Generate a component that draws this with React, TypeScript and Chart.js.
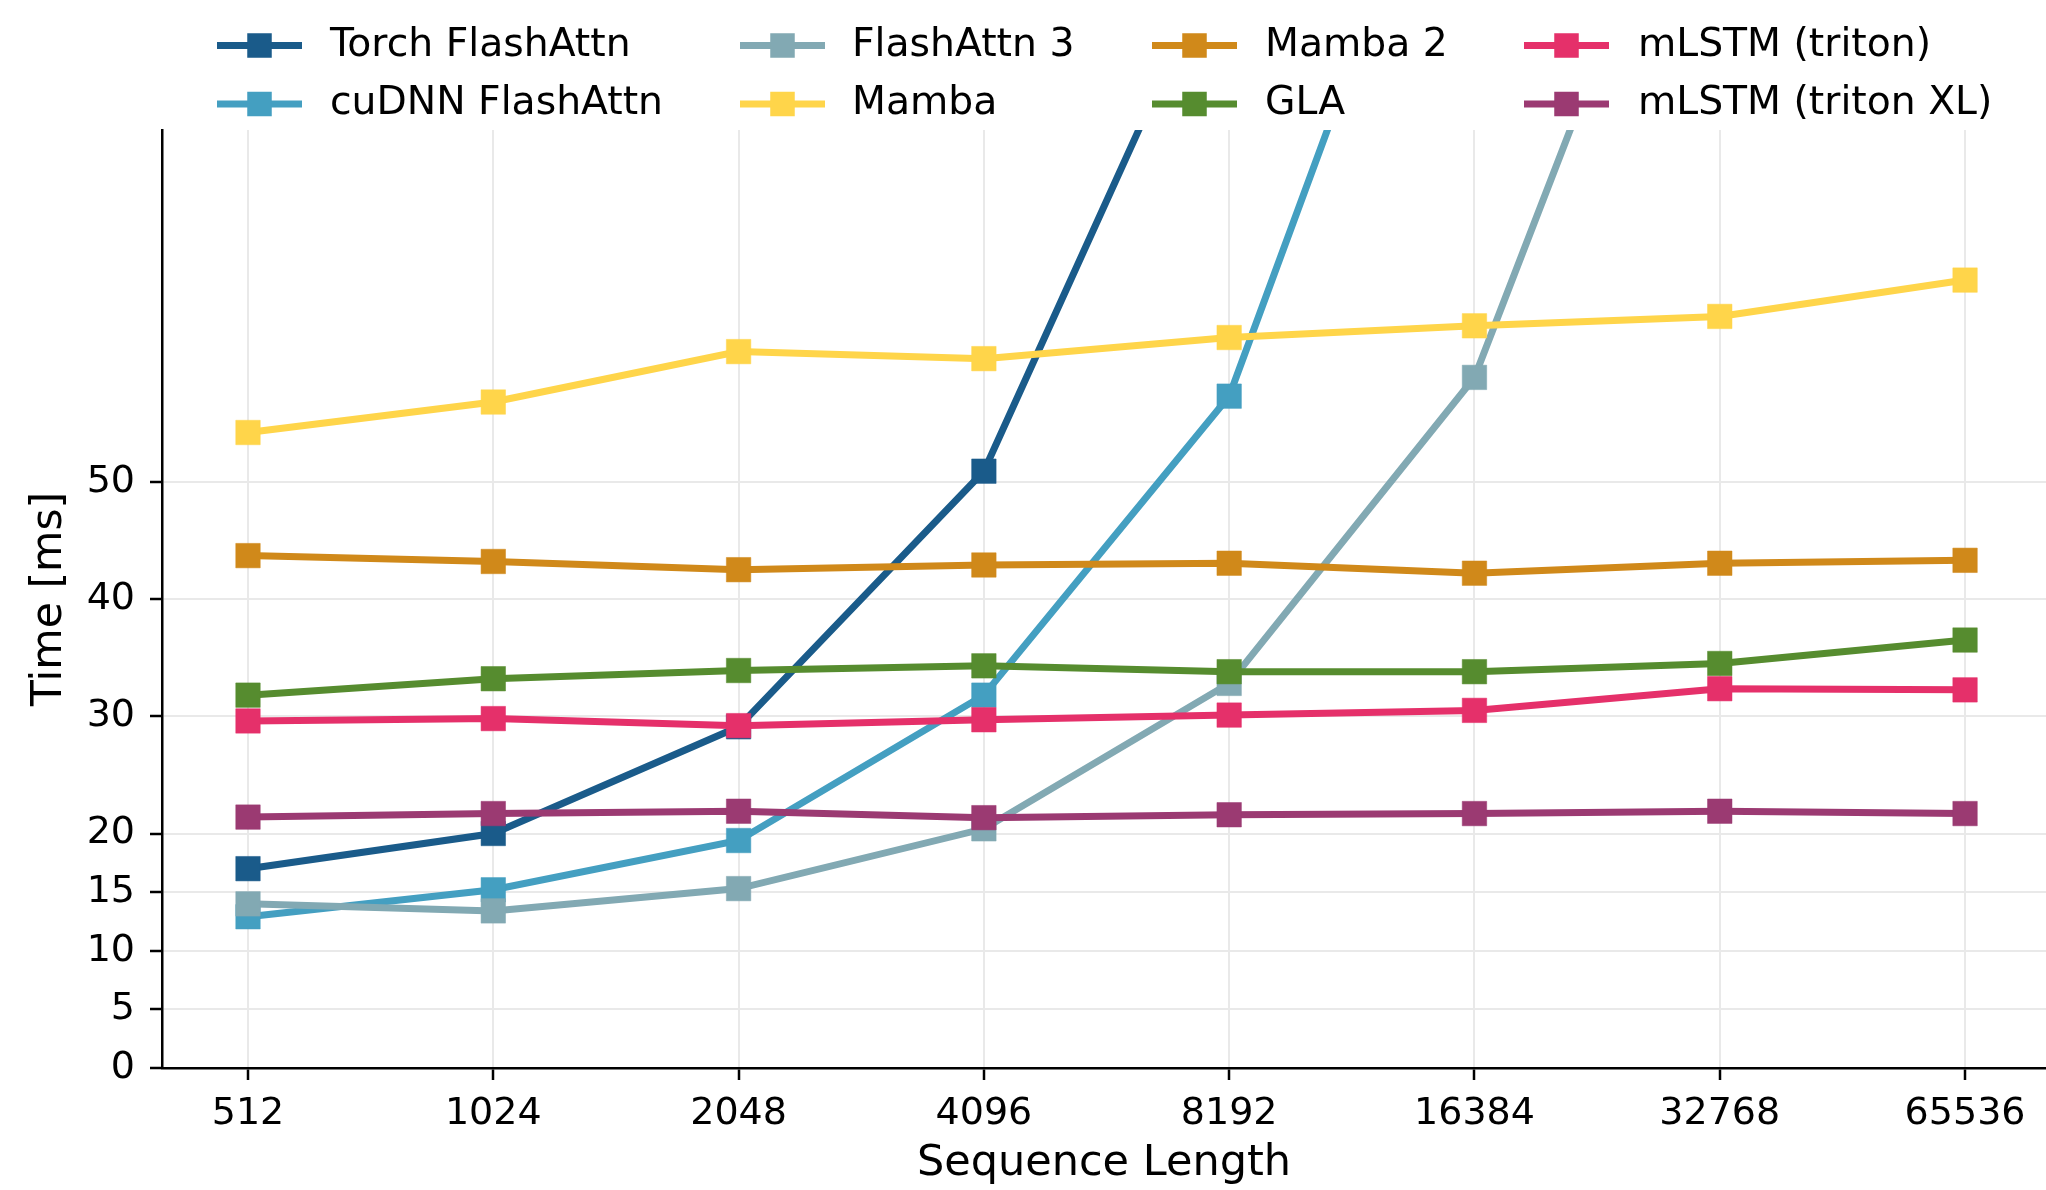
import React, { useEffect, useRef } from "react";
import { Chart, registerables } from "chart.js";

Chart.register(...registerables);

const categories = ["512", "1024", "2048", "4096", "8192", "16384", "32768", "65536"];
const yTicks = [0, 5, 10, 15, 20, 30, 40, 50];

const torchFlash = [17.0, 20.0, 29.1, 50.9, 97, null, null, null];
const cudnnFlash = [12.9, 15.2, 19.4, 31.8, 57.3, 114, null, null];
const flash3 = [14.0, 13.4, 15.3, 20.4, 32.8, 58.9, 113, null];
const mamba = [54.2, 56.8, 61.1, 60.5, 62.3, 63.3, 64.1, 67.2];
const mamba2 = [43.7, 43.2, 42.5, 42.9, 43.05, 42.2, 43.05, 43.3];
const gla = [31.8, 33.2, 33.9, 34.3, 33.8, 33.8, 34.5, 36.5];
const mlstmTriton = [29.6, 29.8, 29.2, 29.7, 30.1, 30.5, 32.35, 32.25];
const mlstmTritonXL = [21.4, 21.7, 21.9, 21.35, 21.6, 21.7, 21.9, 21.7];

const seriesNames = [
  "Torch FlashAttn",
  "cuDNN FlashAttn",
  "FlashAttn 3",
  "Mamba",
  "Mamba 2",
  "GLA",
  "mLSTM (triton)",
  "mLSTM (triton XL)",
];
const seriesValues = [torchFlash, cudnnFlash, flash3, mamba, mamba2, gla, mlstmTriton, mlstmTritonXL];
const seriesColors = ["#1a5b8a", "#449fc1", "#82a9b3", "#ffd54a", "#d0891a", "#568c2f", "#e5306a", "#9b3a72"];

const FONT = "'DejaVu Sans', 'Liberation Sans', sans-serif";

const legendPlugin = {
  id: "customLegend",
  afterDraw(chart: any) {
    const ctx = chart.ctx;
    const cols = [
      { hx: 217, tx: 330 },
      { hx: 740, tx: 852 },
      { hx: 1152, tx: 1265 },
      { hx: 1524, tx: 1638 },
    ];
    const rows = [45.5, 104];
    const hw = 85;
    const ms = 24.5;
    ctx.save();
    chart.data.datasets.forEach((ds: any, i: number) => {
      const c = cols[Math.floor(i / 2)];
      const y = rows[i % 2];
      ctx.strokeStyle = ds.borderColor;
      ctx.lineWidth = 7;
      ctx.lineCap = "butt";
      ctx.beginPath();
      ctx.moveTo(c.hx, y);
      ctx.lineTo(c.hx + hw, y);
      ctx.stroke();
      ctx.fillStyle = ds.borderColor;
      ctx.fillRect(c.hx + hw / 2 - ms / 2, y - ms / 2, ms, ms);
      ctx.fillStyle = "#000";
      ctx.font = `39.3px ${FONT}`;
      ctx.textBaseline = "middle";
      ctx.textAlign = "left";
      ctx.fillText(ds.label, c.tx, y);
    });
    ctx.restore();
  },
};

export default function App() {
  const ref = useRef<HTMLCanvasElement | null>(null);
  useEffect(() => {
    if (!ref.current) return;
    Chart.defaults.font.family = FONT;
    const datasets = seriesNames.map((name, i) => ({
      label: name,
      data: seriesValues[i].map((v, j) => ({ x: j, y: v })),
      borderColor: seriesColors[i],
      backgroundColor: seriesColors[i],
      pointBackgroundColor: seriesColors[i],
      pointBorderColor: seriesColors[i],
      pointBorderWidth: 0.5,
      borderWidth: 7,
      pointStyle: "rect",
      pointRadius: 17.3,
      pointHoverRadius: 17.3,
      tension: 0,
      spanGaps: false,
      order: 20 - i,
    }));
    const chart = new Chart(ref.current, {
      type: "line",
      data: { datasets },
      plugins: [legendPlugin],
      options: {
        animation: false,
        responsive: false,
        devicePixelRatio: 1,
        layout: { autoPadding: false, padding: { top: 130, left: 0, right: 0, bottom: 0 } },
        plugins: { legend: { display: false }, tooltip: { enabled: false } },
        scales: {
          x: {
            type: "linear",
            min: -0.3506,
            max: 7.33,
            afterFit: (s: any) => {
              s.height = 122;
              s.paddingLeft = 0;
              s.paddingRight = 0;
            },
            afterBuildTicks: (s: any) => {
              s.ticks = categories.map((_, i) => ({ value: i }));
            },
            ticks: {
              callback: (v: any) => categories[v as number],
              font: { size: 38 },
              color: "#000",
              padding: 11.5,
              maxRotation: 0,
              autoSkip: false,
            },
            grid: {
              color: "#e9e9e9",
              lineWidth: 2,
              tickColor: "#000",
              tickLength: 12,
              tickWidth: 2.5,
            },
            border: { display: true, color: "#000", width: 2.5 },
            title: {
              display: true,
              text: "Sequence Length",
              font: { size: 43 },
              color: "#000",
              padding: { top: 0, bottom: 0.5 },
            },
          },
          y: {
            type: "linear",
            min: 0,
            max: 80,
            afterFit: (s: any) => {
              s.width = 162;
              s.paddingTop = 0;
              s.paddingBottom = 0;
            },
            afterBuildTicks: (s: any) => {
              s.ticks = yTicks.map((v) => ({ value: v }));
            },
            ticks: {
              callback: (v: any) => String(v),
              font: { size: 38 },
              color: "#000",
              padding: 15,
              autoSkip: false,
            },
            grid: {
              color: "#e9e9e9",
              lineWidth: 2,
              tickColor: "#000",
              tickLength: 12,
              tickWidth: 2.5,
            },
            border: { display: true, color: "#000", width: 2.5 },
            title: {
              display: true,
              text: "Time [ms]",
              font: { size: 42.5 },
              color: "#000",
              padding: { top: 24, bottom: 0 },
            },
          },
        },
      },
    } as any);
    return () => chart.destroy();
  }, []);
  return (
    <div style={{ position: "absolute", left: 0, top: 0, width: 2046, height: 1190, background: "#fff" }}>
      <canvas ref={ref} width={2046} height={1190} style={{ width: 2046, height: 1190, display: "block" }} />
    </div>
  );
}
